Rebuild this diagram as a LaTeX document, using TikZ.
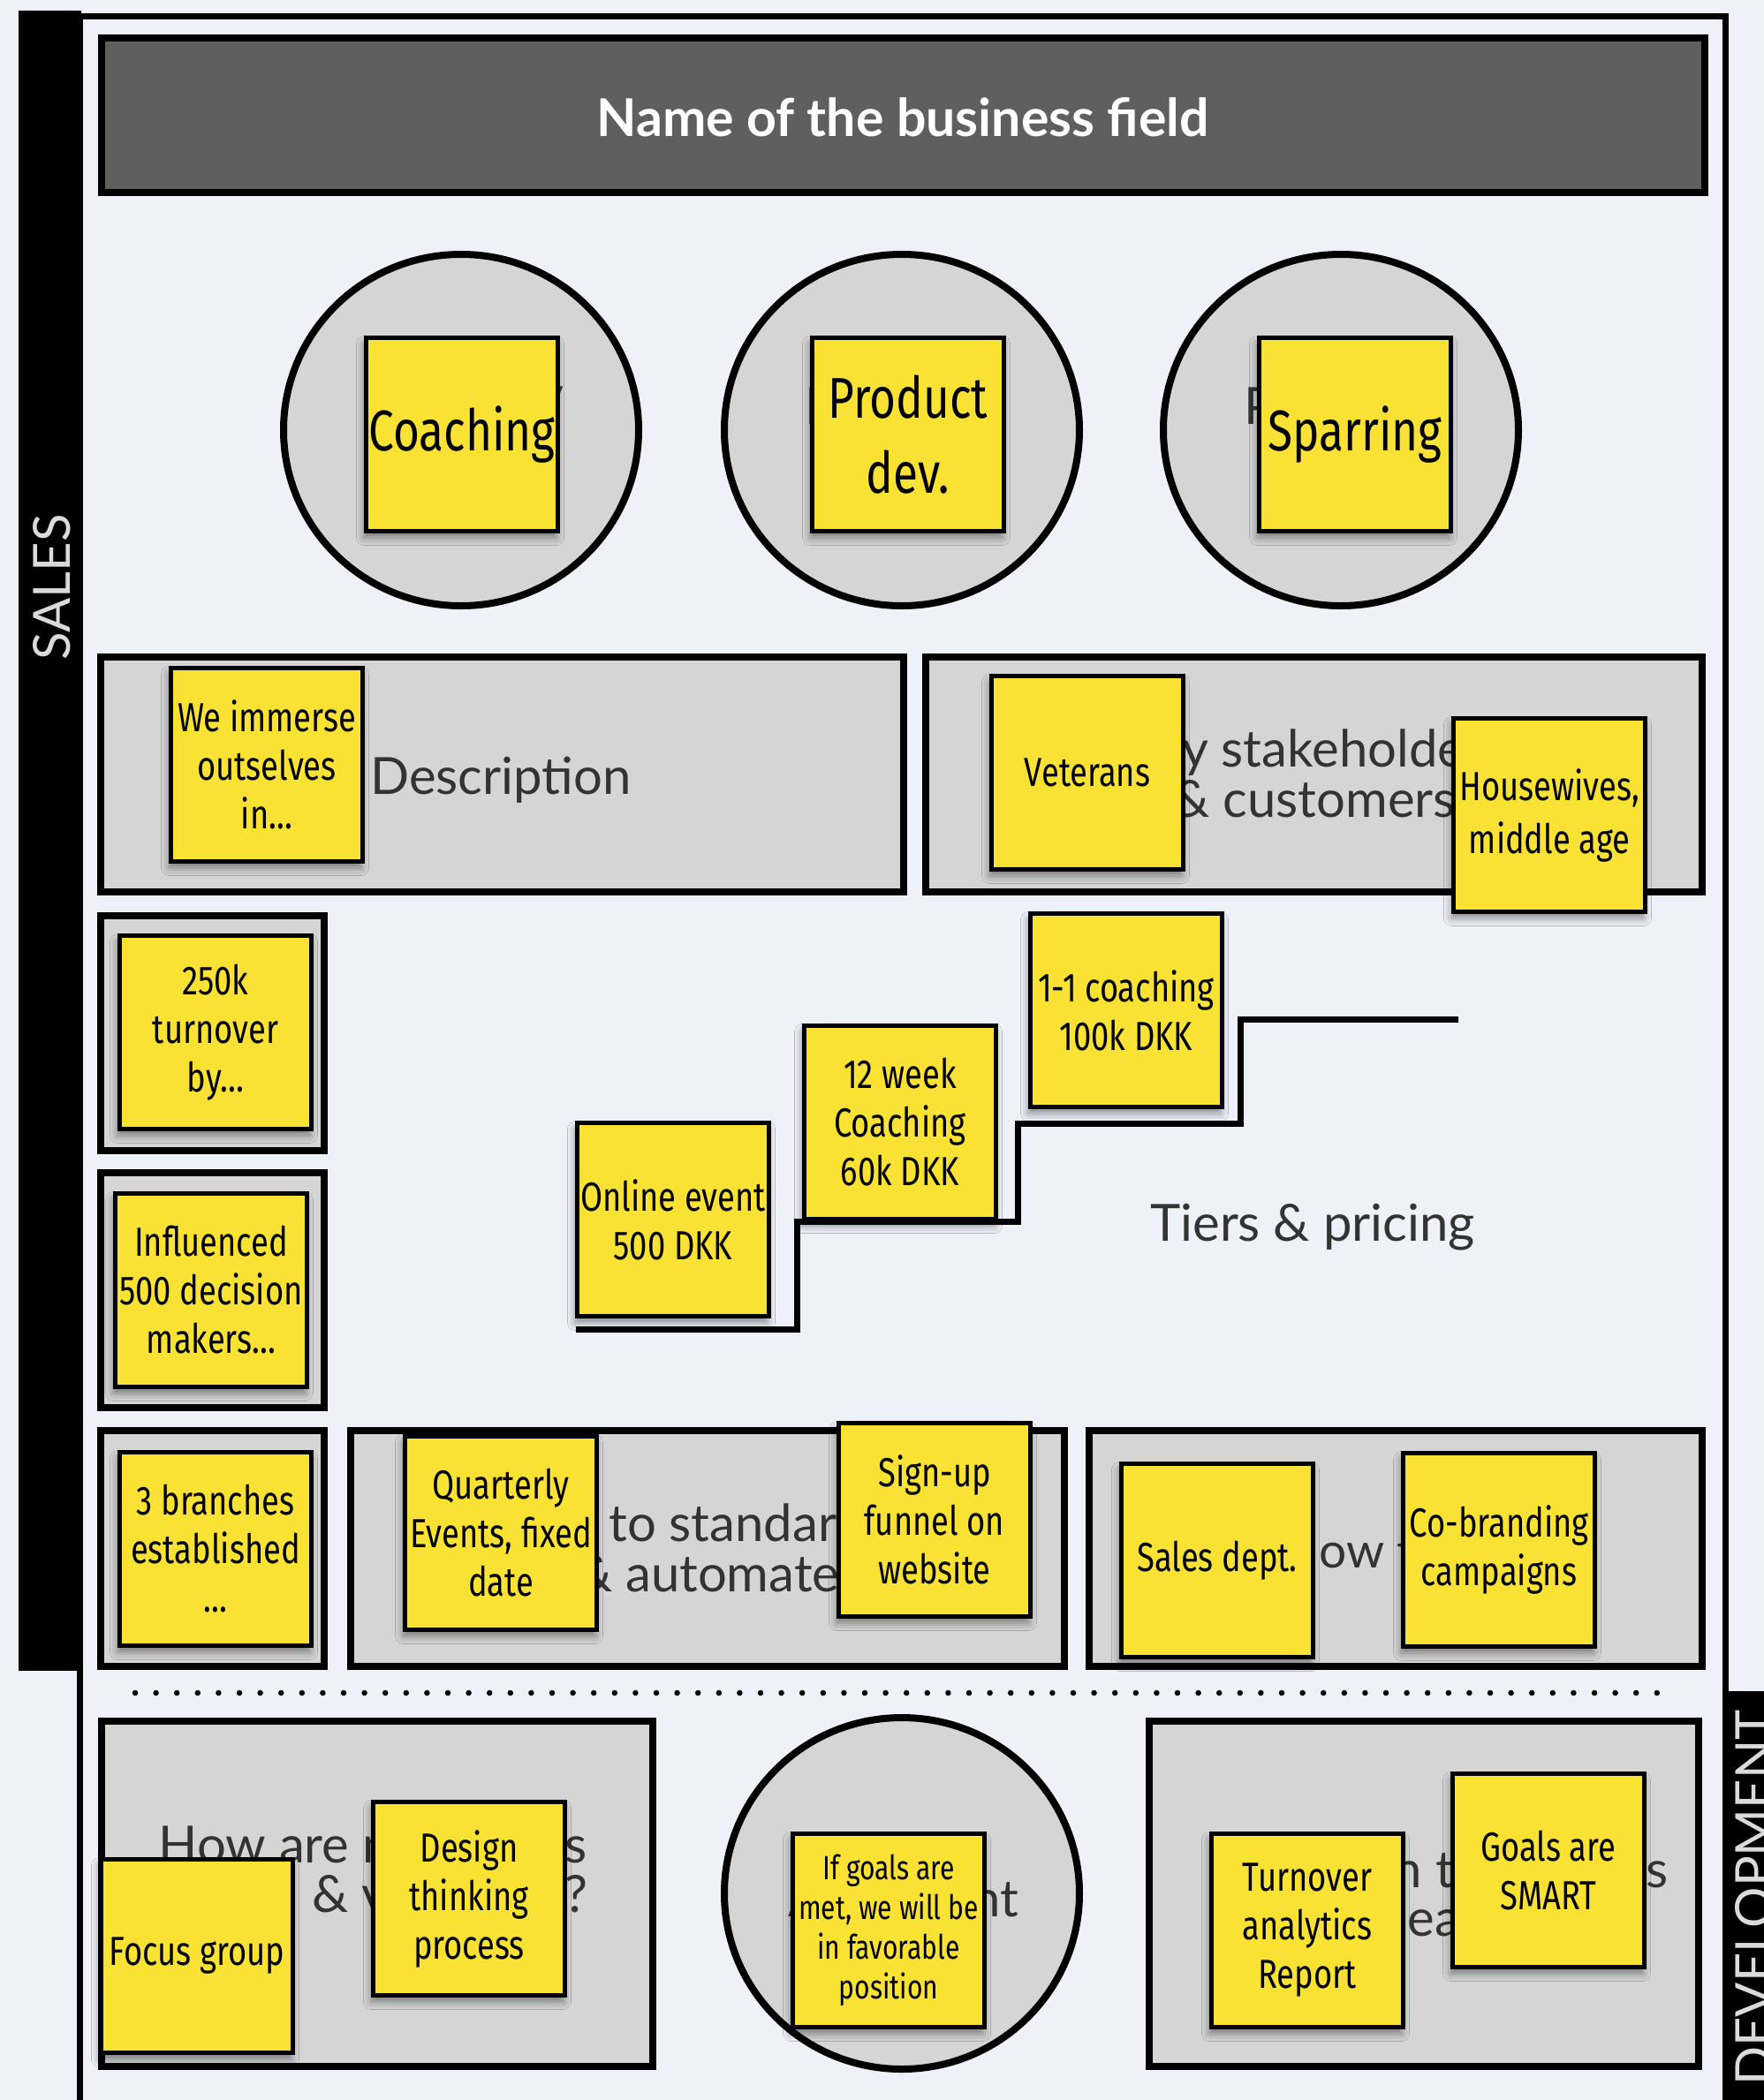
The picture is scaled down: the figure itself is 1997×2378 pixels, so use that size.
\documentclass[tikz,border=0pt]{standalone}
\usepackage{fontspec}
\setmainfont{Lato}
\newfontfamily\hand{Fira Sans}[FakeStretch=0.79]
\usetikzlibrary{shapes.geometric,fit,shadows.blur}

\definecolor{canvasbg}{HTML}{EEF1F8}
\definecolor{panelgray}{HTML}{D5D5D5}
\definecolor{stickyyellow}{HTML}{F9E234}
\definecolor{ink}{HTML}{333333}
\definecolor{titlegray}{HTML}{5F5F5F}
\definecolor{barlabel}{HTML}{DADADA}

\tikzset{
  panel/.style={rectangle, draw=black, line width=8pt, fill=panelgray, inner sep=-4pt},
  titlebar/.style={rectangle, draw=black, line width=8pt, fill=titlegray, inner sep=-4pt},
  ring/.style={ellipse, draw=black, line width=8pt, fill=panelgray,
    minimum width=402pt, minimum height=398pt, inner sep=0pt},
  sticky/.style={rectangle, draw=black, line width=5pt, fill=stickyyellow,
    minimum width=217pt, minimum height=219pt, inner sep=0pt, align=center,
    font=\hand\fontsize{46}{55}\selectfont,
    blur shadow={shadow xshift=-2pt, shadow yshift=-7pt, shadow blur radius=9pt, shadow opacity=45}},
  bignote/.style={font=\hand\fontsize{65}{85}\selectfont},
  smallnote/.style={font=\hand\fontsize{38}{45}\selectfont},
  lbl/.style={text=ink, font=\fontsize{58}{60}\selectfont, inner sep=0pt},
  titletext/.style={text=white, font=\bfseries\fontsize{59}{62}\selectfont, inner sep=0pt},
  barlbl/.style={text=barlabel, font=\fontsize{58}{60}\selectfont, rotate=90, inner sep=0pt},
  stair/.style={draw=black, line width=7pt},
  sepline/.style={draw=black, line width=6.5pt, line cap=round, dash pattern=on 0pt off 23.6pt},
}

\begin{document}
\begin{tikzpicture}[x=1pt,y=-1pt]
\useasboundingbox (0,0) rectangle (1997,2378);
\fill[canvasbg] (0,0) rectangle (1997,2378);

% outer frame and the two side bars
\draw[line width=7pt] (90,18) rectangle (1953,2381);
\fill[black] (21,12) rectangle (92,1892);
\node[barlbl] (sales) at (59,665) {SALES};
\fill[black] (1955,1915) rectangle (2035,2420);
\node[barlbl] (dev) at (1986,2149) {DEVELOPMENT};

% title
\node[titlebar, fit={(111,39) (1934,222)}] (title) {};
\node[titletext, anchor=base] (titlelbl) at (1022,154) {Name of the business field};

% product circles
\node[ring] (ring1) at (522,487) {};
\node[ring] (ring2) at (1021,487) {};
\node[ring] (ring3) at (1518,487) {};
\node[lbl, anchor=base east] (prod1) at (640,480) {Product/};
\node[lbl, anchor=base west] (prod2) at (911,480) {Product/};
\node[lbl, anchor=base west] (prod3) at (1408,480) {Product/};

% description and stakeholders
\node[panel, fit={(110,740) (1027,1014)}] (desc) {};
\node[lbl, anchor=base] (desclbl) at (567,899) {Description};
\node[panel, fit={(1044,740) (1931,1014)}] (stake) {};
\node[lbl, anchor=base] (stakelblA) at (1488,868) {Key stakeholders};
\node[lbl, anchor=base] (stakelblB) at (1488,925) {\& customers};

% goal boxes
\node[panel, fit={(110,1033) (371,1307)}] (goalA) {};
\node[panel, fit={(110,1324) (371,1598)}] (goalB) {};
\node[panel, fit={(110,1616) (371,1891)}] (goalC) {};

% tiers and pricing staircase
\node[lbl, anchor=base] (tiers) at (1486,1405) {Tiers \& pricing};
\coordinate (s0) at (652,1505);
\coordinate (s1) at (902,1505);
\coordinate (s2) at (902,1383);
\coordinate (s3) at (1152,1383);
\coordinate (s4) at (1152,1272);
\coordinate (s5) at (1404,1272);
\coordinate (s6) at (1404,1154);
\coordinate (s7) at (1651,1154);
\draw[stair] (s0) -- (s1) -- (s2) -- (s3) -- (s4) -- (s5) -- (s6) -- (s7);

% standardisation and selling
\node[panel, fit={(393,1616) (1209,1891)}] (stand) {};
\node[lbl, anchor=base] (standA) at (801,1745) {How to standardize};
\node[lbl, anchor=base east] (standB) at (975,1802) {\& automate?};
\node[panel, fit={(1229,1616) (1931,1891)}] (sell) {};
\node[lbl, font=\fontsize{55}{57}\selectfont, anchor=base west] (selllbl) at (1452,1775) {How to sell?};

% separator
\coordinate (dotL) at (153,1917);
\coordinate (dotR) at (1888,1917);
\draw[sepline] (dotL) -- (dotR);

% development row
\node[panel, fit={(111,1945) (743,2344)}] (ideas) {};
\node[lbl, anchor=base] (ideasA) at (422,2109) {How are new ideas};
\node[lbl, anchor=base east] (ideasB) at (666,2165) {\& validated?};
\node[ring] (ring4) at (1021,2144) {};
\node[lbl, anchor=base east] (alignlbl) at (1153,2170) {Alignment};
\node[panel, fit={(1297,1945) (1927,2344)}] (track) {};
\node[lbl, anchor=base east] (trackA) at (1889,2137) {Focus on their goals};
\node[lbl, anchor=base west] (trackB) at (1505,2192) {for each step};

% sticky notes
\node[sticky, bignote] (n1) at (523,492) {Coaching};
\node[sticky, bignote] (n2) at (1028,492) {Product\\dev.};
\node[sticky, bignote] (n3) at (1534,492) {Sparring};
\node[sticky] (n4) at (302,866) {We immerse\\outselves\\in…};
\node[sticky] (n5) at (1231,875) {Veterans};
\node[sticky, font=\hand\fontsize{46}{60}\selectfont] (n6) at (1754,923) {Housewives,\\middle age};
\node[sticky] (n7) at (244,1169) {250k\\turnover\\by…};
\node[sticky] (n8) at (239,1461) {Influenced\\500 decision\\makers…};
\node[sticky] (n9) at (762,1381) {Online event\\500 DKK};
\node[sticky] (n10) at (1019,1271) {12 week\\Coaching\\60k DKK};
\node[sticky] (n11) at (1275,1144) {1-1 coaching\\100k DKK};
\node[sticky] (n12) at (244,1754) {3 branches\\established\\…};
\node[sticky] (n13) at (567,1736) {Quarterly\\Events, fixed\\date};
\node[sticky] (n14) at (1058,1721) {Sign-up\\funnel on\\website};
\node[sticky] (n15) at (1378,1767) {Sales dept.};
\node[sticky] (n16) at (1697,1755) {Co-branding\\campaigns};
\node[sticky] (n17) at (223,2215) {Focus group};
\node[sticky] (n18) at (531,2150) {Design\\thinking\\process};
\node[sticky, smallnote] (n19) at (1006,2186) {If goals are\\met, we will be\\in favorable\\position};
\node[sticky] (n20) at (1480,2186) {Turnover\\analytics\\Report};
\node[sticky] (n21) at (1753,2118) {Goals are\\SMART};
\end{tikzpicture}
\end{document}
